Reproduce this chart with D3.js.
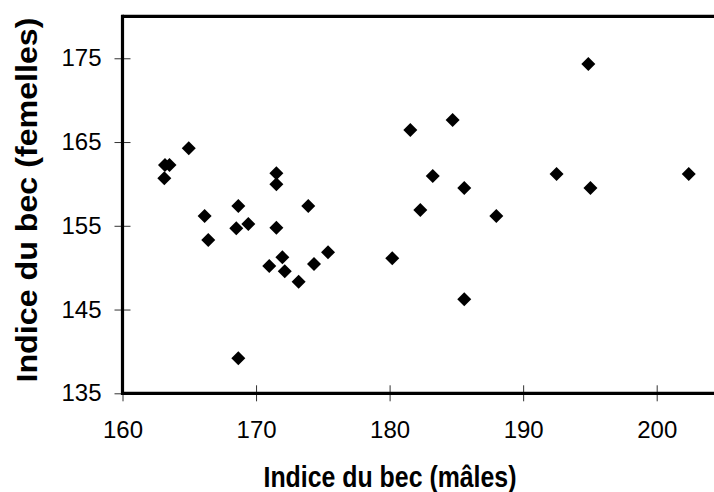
<!DOCTYPE html>
<html>
<head>
<meta charset="utf-8">
<script src="https://cdn.jsdelivr.net/npm/d3@7"></script>
<style>
  body { margin: 0; background: #fff; }
  text { font-family: "Liberation Sans", Arial, sans-serif; }
</style>
</head>
<body>
<div id="chart"></div>
<script>
// beak index, males (x) vs females (y)
const malesIdx = [163.18, 163.52, 163.13, 164.96, 166.15, 166.42, 168.67, 168.52,
    169.42, 168.67, 170.99, 171.52, 171.52, 171.52, 171.97, 172.15,
    173.19, 173.91, 174.34, 175.39, 180.20, 181.55, 182.30, 183.23,
    184.72, 185.59, 185.59, 187.99, 192.50, 194.88, 195.04, 202.40];
const femalesIdx = [162.26, 162.26, 160.67, 164.25, 156.17, 153.30, 157.36, 154.70,
    155.21, 139.18, 150.20, 161.27, 159.96, 154.77, 151.24, 149.57,
    148.33, 157.36, 150.44, 151.84, 151.12, 166.44, 156.89, 160.95,
    167.63, 159.51, 146.22, 156.17, 161.19, 174.32, 159.51, 161.19];
const xTicks = [160, 170, 180, 190, 200];
const yTicks = [135, 145, 155, 165, 175];

let width = 714,
    height = 492,
    plotLeft = 122.5,
    plotTop = 16.4,
    plotBottom = 393.3;

let data = malesIdx.map((m, i) => ({x: m, y: femalesIdx[i]}));

let x = d3.scaleLinear().domain([160, 205]).range([plotLeft, plotLeft + 45 * 13.355]);
let y = d3.scaleLinear().domain([135, 180]).range([plotBottom, plotTop]);

let svg = d3.select("#chart")
    .append("svg")
    .attr("width", width)
    .attr("height", height);

// frame: top border
svg.append("line")
    .attr("x1", plotLeft).attr("x2", width)
    .attr("y1", plotTop).attr("y2", plotTop)
    .attr("stroke", "#000").attr("stroke-width", 3.2);

let xAxis = svg.append("g")
    .attr("transform", "translate(0," + plotBottom + ")")
    .call(d3.axisBottom(x).tickValues(xTicks).tickSize(8).tickPadding(20).tickSizeOuter(0));
xAxis.select(".domain").remove();
xAxis.selectAll(".tick line").attr("y1", -8).attr("stroke", "#333");
xAxis.selectAll(".tick text")
    .attr("font-size", 24).attr("fill", "#000")
    .attr("font-family", "Liberation Sans, Arial, sans-serif");

let yAxis = svg.append("g")
    .attr("transform", "translate(" + plotLeft + ",0)")
    .call(d3.axisLeft(y).tickValues(yTicks).tickSize(8).tickPadding(13).tickSizeOuter(0));
yAxis.select(".domain").remove();
yAxis.selectAll(".tick line").attr("x1", 8).attr("x2", -8).attr("stroke", "#333");
yAxis.selectAll(".tick text")
    .attr("font-size", 24).attr("fill", "#000")
    .attr("font-family", "Liberation Sans, Arial, sans-serif");

// thick axis lines
svg.append("line")
    .attr("x1", plotLeft).attr("x2", plotLeft)
    .attr("y1", plotTop - 1.6).attr("y2", plotBottom + 1.6)
    .attr("stroke", "#000").attr("stroke-width", 3.2);
svg.append("line")
    .attr("x1", plotLeft).attr("x2", width)
    .attr("y1", plotBottom).attr("y2", plotBottom)
    .attr("stroke", "#000").attr("stroke-width", 3.2);

// points
let diamond = d3.symbol().type(d3.symbolSquare).size(98);
svg.selectAll("path.pt")
    .data(data)
    .enter()
    .append("path")
    .attr("class", "pt")
    .attr("d", diamond)
    .attr("transform", d => "translate(" + x(d.x) + "," + y(d.y) + ") rotate(45)")
    .attr("fill", "#000");

// axis titles
svg.append("text")
    .attr("x", 390).attr("y", 487)
    .attr("text-anchor", "middle")
    .attr("font-size", 30).attr("font-weight", "bold")
    .attr("textLength", 253).attr("lengthAdjust", "spacingAndGlyphs")
    .text("Indice du bec (mâles)");

svg.append("text")
    .attr("transform", "translate(37,200) rotate(-90)")
    .attr("text-anchor", "middle")
    .attr("font-size", 30).attr("font-weight", "bold")
    .attr("textLength", 365).attr("lengthAdjust", "spacingAndGlyphs")
    .text("Indice du bec (femelles)");
</script>
</body>
</html>
